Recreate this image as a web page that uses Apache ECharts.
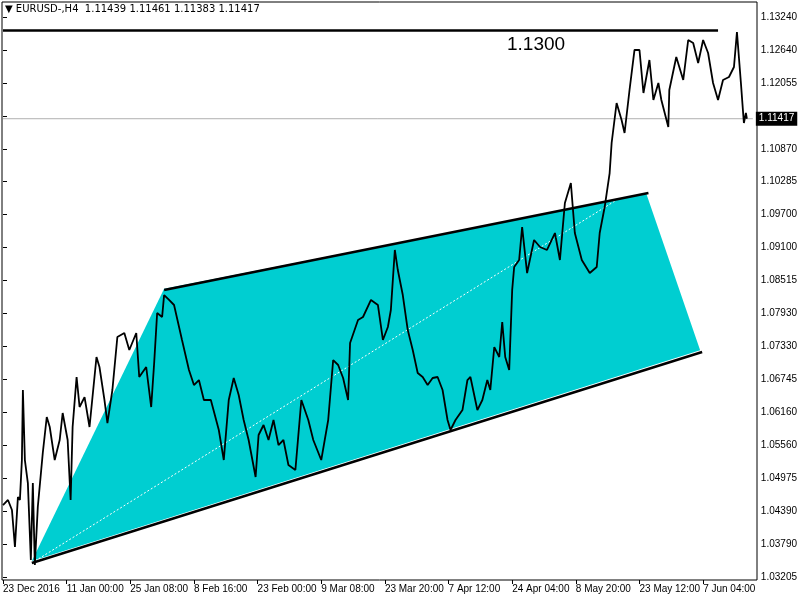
<!DOCTYPE html>
<html><head><meta charset="utf-8">
<script src="https://cdn.jsdelivr.net/npm/echarts@6/dist/echarts.min.js"></script>
<style>html,body{margin:0;padding:0;background:#fff}#c{width:800px;height:600px}</style>
</head><body><div id="c"></div>
<script>
const dateLabels = ['23 Dec 2016','11 Jan 00:00','25 Jan 08:00','8 Feb 16:00','23 Feb 00:00','9 Mar 08:00','23 Mar 20:00','7 Apr 12:00','24 Apr 04:00','8 May 20:00','23 May 12:00','7 Jun 04:00'];
const priceLabels = ['1.03205','1.03790','1.04390','1.04975','1.05560','1.06160','1.06745','1.07330','1.07930','1.08515','1.09100','1.09700','1.10285','1.10870','1.11417','1.12055','1.12640','1.13240'];
const bars = [0,5,9,12,15,17,19,20,22,25,28,30,32,35,40,44,47,52,57,60,65,68,70,74,77,82,87,94,97,102,105,110,115,122,127,134,137,144,149,152,155,160,162,167,172,180,187,192,197,202,209,217,222,227,232,237,242,247,254,257,262,267,272,277,282,287,294,300,307,312,320,327,332,337,342,347,349,357,362,370,377,382,387,390,394,397,402,407,412,417,422,427,432,437,442,447,450,455,462,467,470,477,482,487,490,494,499,502,505,509,512,514,519,522,527,534,540,547,555,560,565,571,575,582,590,597,600,605,610,612,617,622,625,630,635,640,644,650,654,659,662,669,670,677,684,689,694,699,704,709,714,719,724,730,735,738,742,744,745,747,748];
const prices = [1.04495,1.04585,1.04405,1.03742,1.04638,1.04585,1.05301,1.06556,1.05301,1.04889,1.03509,1.04889,1.0342,1.04459,1.05427,1.06072,1.05893,1.05301,1.0566,1.06144,1.0566,1.04585,1.05893,1.06789,1.06251,1.0643,1.05893,1.07147,1.06968,1.06377,1.05964,1.06556,1.07506,1.07577,1.07273,1.07577,1.06789,1.06968,1.06251,1.0704,1.07936,1.07864,1.08258,1.08169,1.08079,1.07452,1.06914,1.06645,1.06735,1.06377,1.06377,1.05839,1.05301,1.06377,1.06771,1.06466,1.06018,1.0566,1.04997,1.0575,1.05929,1.0566,1.06018,1.0557,1.0566,1.05212,1.05122,1.06377,1.06018,1.0566,1.05301,1.06018,1.07093,1.07004,1.06771,1.06377,1.07398,1.0781,1.07864,1.08169,1.08079,1.07452,1.07685,1.0799,1.09065,1.08706,1.08258,1.07631,1.07273,1.0686,1.06789,1.06645,1.06771,1.06789,1.06556,1.06018,1.05839,1.06018,1.06197,1.06735,1.06789,1.06197,1.06377,1.06735,1.06556,1.07326,1.07147,1.07774,1.07147,1.06914,1.08348,1.0876,1.08885,1.09477,1.08652,1.09244,1.09118,1.09065,1.09369,1.08885,1.09907,1.10265,1.09369,1.08885,1.08652,1.0876,1.09369,1.09835,1.10444,1.10982,1.11699,1.11394,1.11161,1.11932,1.12649,1.12649,1.11878,1.12469,1.11753,1.12057,1.11753,1.11269,1.11932,1.12523,1.12111,1.12828,1.12774,1.12416,1.12828,1.12595,1.12057,1.11753,1.12111,1.12165,1.12344,1.12971,1.12057,1.11573,1.1134,1.1152,1.11417];
const lastPrice = 1.11417;
const levelPrice = 1.1300;
const channelPoly = [[29,1.03490],[162,1.08370],[647,1.10068],[701,1.07270]];
const upperLine = [[162,1.08348],[649,1.10086]];
const lowerLine = [[29,1.03456],[703,1.07237]];
const midLine = [[29,1.03456],[617,1.09961]];
const levelLine = [[0,levelPrice],[719,levelPrice]];
const lastLine = [[0,lastPrice],[754,lastPrice]];

const yMin = 1.03205, yMax = 1.13240, yInt = (yMax - yMin) / 17;
const chart = echarts.init(document.getElementById('c'));
const font = 'Liberation Sans';
chart.setOption({
  animation: false,
  grid: {left: 3, right: 43, top: 17, bottom: 23},
  xAxis: {type: 'value', min: 0, max: 754, interval: 64,
    offset: 3,
    axisLine: {show: false}, splitLine: {show: false},
    axisTick: {show: true, length: 4, lineStyle: {color: '#000'}},
    axisLabel: {color: '#000', fontFamily: font, fontSize: 10, align: 'left', margin: 4,
      showMinLabel: true, showMaxLabel: false,
      formatter: v => dateLabels[Math.round(v / 64)] || ''}},
  yAxis: {type: 'value', position: 'right', min: yMin, max: yMax, interval: yInt,
    axisLine: {show: false}, splitLine: {show: false}, minorTick: {show: false},
    axisTick: {show: true, inside: false, length: 4, lineStyle: {color: '#000'}},
    axisLabel: {color: '#000', fontFamily: font, fontSize: 10, margin: 8,
      formatter: v => { const i = Math.round((v - yMin) / yInt); return i === 14 ? '' : priceLabels[i]; }}},
  graphic: [
    {type: 'rect', shape: {x: 2, y: 2, width: 755, height: 578}, style: {fill: null, stroke: '#000', lineWidth: 1}, z: 0},
    {type: 'text', left: 5, top: 4, style: {text: '▼ EURUSD-,H4  1.11439 1.11461 1.11383 1.11417', font: '10px "DejaVu Sans"', fill: '#000'}},
    {type: 'text', left: 507, top: 35, style: {text: '1.1300', font: '19px "Liberation Sans"', fill: '#000'}}
  ],
  series: [
    {type: 'custom', silent: true, z: 1,
      renderItem: (params, api) => ({type: 'polygon',
        shape: {points: channelPoly.map(p => api.coord(p))},
        style: {fill: '#00CED1'}}),
      data: [0]},
    {type: 'line', data: lastLine, symbol: 'none', z: 1, lineStyle: {color: '#b0b0b0', width: 1},
      endLabel: {show: true, formatter: '1.11417', color: '#fff', backgroundColor: '#000',
        fontFamily: font, fontSize: 10, padding: [2, 3], distance: 3}},
    {type: 'line', data: midLine, symbol: 'none', z: 2, lineStyle: {color: '#fff', width: 1, type: [2, 2]}},
    {type: 'line', data: upperLine, symbol: 'none', z: 3, lineStyle: {color: '#000', width: 2.5}},
    {type: 'line', data: lowerLine, symbol: 'none', z: 3, lineStyle: {color: '#000', width: 2.5}},
    {type: 'line', data: levelLine, symbol: 'none', z: 3, lineStyle: {color: '#000', width: 2.5}},
    {type: 'line', data: bars.map((b, i) => [b, prices[i]]), symbol: 'none', z: 4,
      lineStyle: {color: '#000', width: 1.8}}
  ]
});
</script></body></html>
